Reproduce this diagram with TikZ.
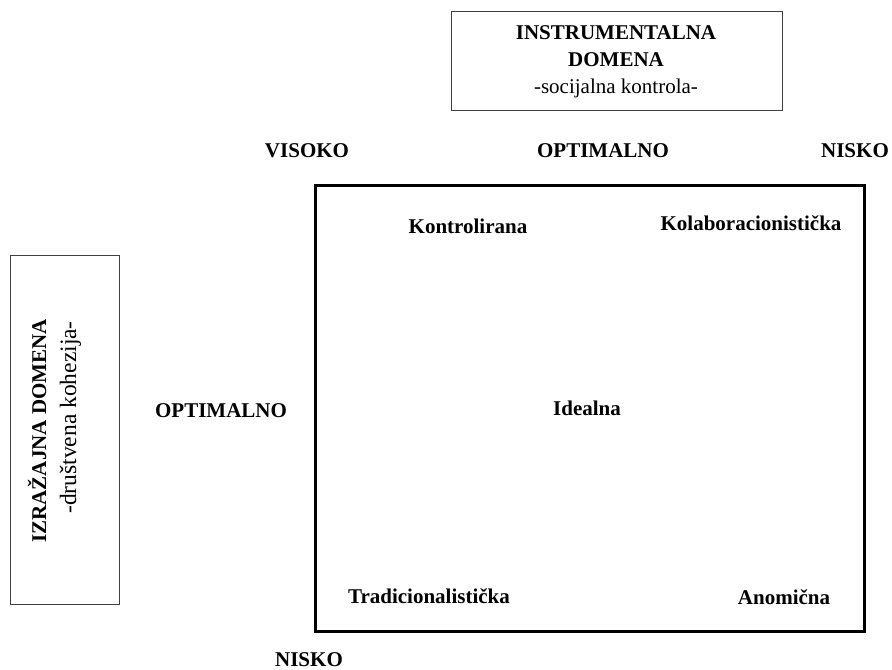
\documentclass[tikz,border=0pt]{standalone}
\usepackage{fontspec}
\setmainfont{Liberation Serif}
\begin{document}
\begin{tikzpicture}[x=1bp,y=-1bp,
  lbl/.style={font=\fontsize{21bp}{27bp}\selectfont\bfseries, inner sep=0pt, anchor=base},
  plain/.style={font=\fontsize{21bp}{27bp}\selectfont},
  thinbox/.style={draw=black!75, line width=1bp},
  mainbox/.style={draw=black, line width=3bp}]
\useasboundingbox (0,0) rectangle (892,670);
% top box
\draw[thinbox] (451,12) rectangle (782,111);
\node[lbl] (instr) at (616,40) {INSTRUMENTALNA};
\node[lbl] (dom) at (616,67) {DOMENA};
\node[lbl, plain] (soc) at (616,94) {-socijalna kontrola-};
% left box
\draw[thinbox] (10,255) rectangle (119,604);
\node[lbl, rotate=90, anchor=base east] (izr) at (46,319) {IZRAŽAJNA DOMENA};
\node[lbl, rotate=90, anchor=base east, font=\fontsize{23.5bp}{27bp}\selectfont] (drus) at (76,321) {-društvena kohezija-};
% main box
\draw[mainbox] (315,185) rectangle (864,631);
% axis labels
\node[lbl] (vis) at (307,158) {VISOKO};
\node[lbl] (optt) at (603,158) {OPTIMALNO};
\node[lbl] (nisr) at (855,158) {NISKO};
\node[lbl] (optl) at (221,417) {OPTIMALNO};
\node[lbl] (nisb) at (309,666.5) {NISKO};
% cells
\node[lbl] (kon) at (468,233) {Kontrolirana};
\node[lbl] (kol) at (751,230) {Kolaboracionistička};
\node[lbl] (ide) at (587,415) {Idealna};
\node[lbl] (tra) at (429,603) {Tradicionalistička};
\node[lbl] (ano) at (784,604) {Anomična};
\end{tikzpicture}
\end{document}
